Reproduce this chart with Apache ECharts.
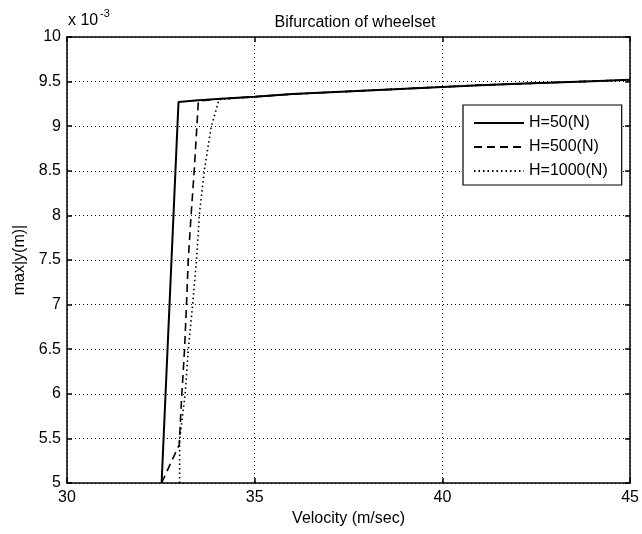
<!DOCTYPE html>
<html>
<head>
<meta charset="utf-8">
<script src="https://cdn.jsdelivr.net/npm/echarts@6/dist/echarts.min.js"></script>
<style>
  html, body { margin: 0; padding: 0; background: #fff; }
  #chart { width: 642px; height: 534px; }
</style>
</head>
<body>
<div id="chart"></div>
<script>
// Axis ranges (amplitude in units of 1e-3 m)
const velocityMin = 30, velocityMax = 45, velocityStep = 5;
const ampMin = 5, ampMax = 10, ampStep = 0.5;

const seriesNames = ['H=50(N)', 'H=500(N)', 'H=1000(N)'];

// H = 50 N
const h50Velocity = [32.52, 32.97, 33.5, 34, 35, 36, 37, 38, 39, 40, 41, 42, 43, 44, 45];
const h50Amp      = [5.0,   9.27,  9.29, 9.305, 9.33, 9.36, 9.38, 9.40, 9.42, 9.44, 9.46, 9.475, 9.49, 9.505, 9.52];

// H = 500 N
const h500Velocity = [32.52, 32.99, 33.05, 33.13, 33.18, 33.23, 33.31, 33.39, 33.5, 34, 35, 36, 37, 38, 39, 40, 41, 42, 43, 44, 45];
const h500Amp      = [5.0,   5.43,  5.93,  6.49,  6.97,  7.5,   8.03,  8.51,  9.28, 9.305, 9.33, 9.36, 9.38, 9.40, 9.42, 9.44, 9.46, 9.475, 9.49, 9.505, 9.52];

// H = 1000 N
const h1000Velocity = [33.0, 33.0, 33.15, 33.23, 33.34, 33.45, 33.53, 33.66, 33.84, 34.05, 35, 36, 37, 38, 39, 40, 41, 42, 43, 44, 45];
const h1000Amp      = [5.0,  5.48, 6.01,  6.49,  6.97,  7.5,   8.03,  8.51,  8.99,  9.30,  9.33, 9.36, 9.38, 9.40, 9.42, 9.44, 9.46, 9.475, 9.49, 9.505, 9.52];

const pairs = (xs, ys) => xs.map((x, i) => [x, ys[i]]);

const FONT = 'Liberation Sans, Arial, sans-serif';
const FS = 16;
const chart = echarts.init(document.getElementById('chart'), null, { renderer: 'canvas' });

const baseX = {
  type: 'value', min: velocityMin, max: velocityMax, interval: velocityStep,
  axisLine: { show: true, onZero: false, lineStyle: { color: '#000', width: 1.5 } },
  axisTick: { show: true, inside: true, length: 5, lineStyle: { color: '#000', width: 1.5 } }
};
const baseY = {
  type: 'value', min: ampMin, max: ampMax, interval: ampStep,
  axisLine: { show: true, onZero: false, lineStyle: { color: '#000', width: 1.5 } },
  axisTick: { show: true, inside: true, length: 5, lineStyle: { color: '#000', width: 1.5 } }
};

chart.setOption({
  animation: false,
  backgroundColor: '#fff',
  title: {
    text: 'Bifurcation of wheelset',
    left: 350, top: 10, textAlign: 'center',
    textStyle: { fontFamily: FONT, fontSize: FS, fontWeight: 'normal', color: '#000' }
  },
  graphic: [
    { type: 'text', left: 68, top: 13, style: { text: 'x 10', font: FS + 'px ' + FONT, fill: '#000' } },
    { type: 'text', left: 100, top: 8, style: { text: '-3', font: '11px ' + FONT, fill: '#000' } }
  ],
  grid: { left: 67, right: 9, top: 37, bottom: 51, containLabel: false },
  legend: {
    orient: 'vertical',
    left: 463, top: 105,
    data: seriesNames,
    backgroundColor: '#fff',
    borderColor: '#000', borderWidth: 1.2,
    padding: [10, 14, 6, 10],
    itemGap: 8,
    itemWidth: 50, itemHeight: 16,
    itemStyle: { opacity: 0 },
    textStyle: { fontFamily: FONT, fontSize: FS, color: '#000' }
  },
  xAxis: [
    Object.assign({}, baseX, {
      position: 'bottom',
      name: 'Velocity (m/sec)', nameLocation: 'middle', nameGap: 24,
      nameTextStyle: { fontFamily: FONT, fontSize: FS, color: '#000' },
      axisLabel: { fontFamily: FONT, fontSize: FS, color: '#000', margin: 7 },
      splitLine: { show: true, lineStyle: { color: '#000', width: 1, type: [1, 3] } }
    }),
    Object.assign({}, baseX, {
      position: 'top', axisLabel: { show: false }, splitLine: { show: false }
    })
  ],
  yAxis: [
    Object.assign({}, baseY, {
      position: 'left',
      name: 'max|y(m)|', nameLocation: 'middle', nameGap: 38,
      nameTextStyle: { fontFamily: FONT, fontSize: FS, color: '#000' },
      axisLabel: {
        fontFamily: FONT, fontSize: FS, color: '#000', margin: 6,
        formatter: v => String(+v.toFixed(1))
      },
      splitLine: { show: true, lineStyle: { color: '#000', width: 1, type: [1, 3] } }
    }),
    Object.assign({}, baseY, {
      position: 'right', axisLabel: { show: false }, splitLine: { show: false }
    })
  ],
  series: [
    {
      name: seriesNames[0], type: 'line', symbol: 'none', xAxisIndex: 0, yAxisIndex: 0,
      data: pairs(h50Velocity, h50Amp),
      lineStyle: { color: '#000', width: 2, type: 'solid' },
      itemStyle: { color: '#000' }
    },
    {
      name: seriesNames[1], type: 'line', symbol: 'none', xAxisIndex: 0, yAxisIndex: 0,
      data: pairs(h500Velocity, h500Amp),
      lineStyle: { color: '#000', width: 1.6, type: [8, 5] },
      itemStyle: { color: '#000' }
    },
    {
      name: seriesNames[2], type: 'line', symbol: 'none', xAxisIndex: 0, yAxisIndex: 0,
      data: pairs(h1000Velocity, h1000Amp),
      lineStyle: { color: '#000', width: 1.6, type: [1.5, 3] },
      itemStyle: { color: '#000' }
    }
  ]
});
</script>
</body>
</html>
